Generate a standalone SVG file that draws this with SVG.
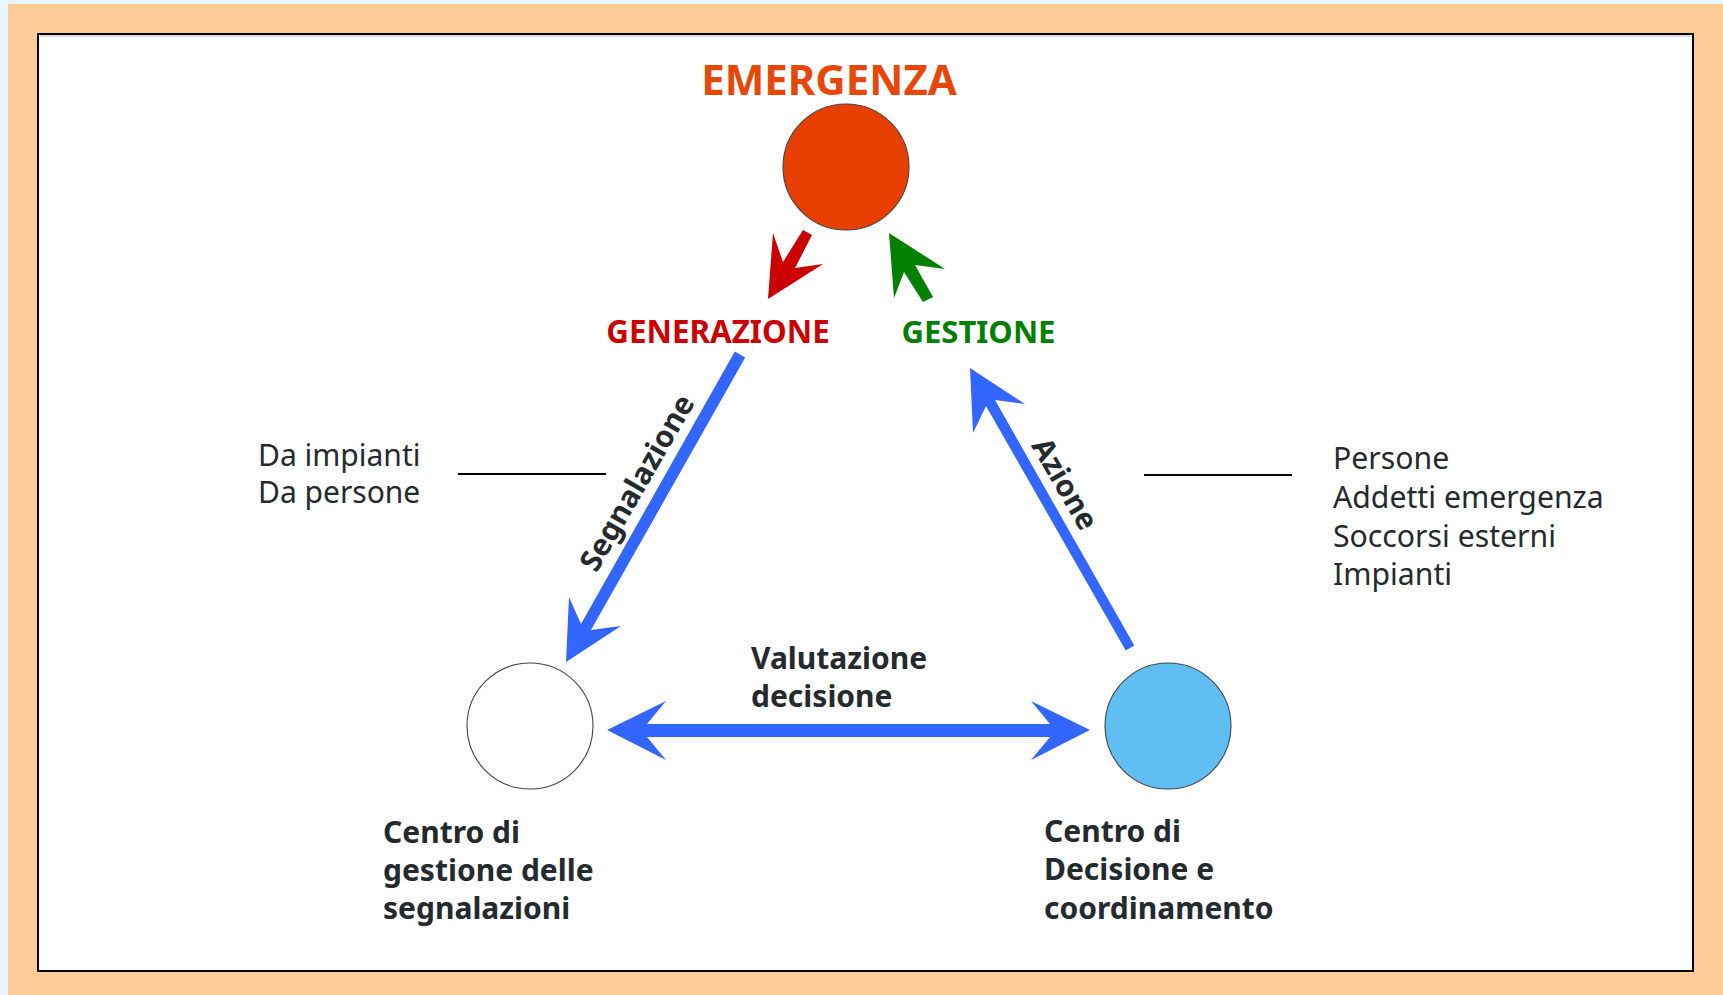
<svg xmlns="http://www.w3.org/2000/svg" width="1723" height="995" viewBox="0 0 1723 995">
<style>
.t{font-family:"Noto Sans","Open Sans","Liberation Sans",sans-serif;fill:#252a2e}
.b{font-weight:bold}
.r{font-weight:normal}
.blue{fill:#3366ff}
.node{stroke:#444;stroke-width:1.1}
</style>
<rect x="0" y="0" width="1723" height="995" fill="#e9f4ff"/>
<rect x="8" y="4" width="1715" height="991" fill="#ffcb99"/>
<rect x="38" y="34" width="1655" height="937" fill="#ffffff" stroke="#000" stroke-width="2"/>
<line x1="40" y1="36" x2="1691" y2="36" stroke="#bbb" stroke-width="1"/>

<g id="emergenza">
<text class="t b" x="829" y="95" font-size="42" text-anchor="middle" style="fill:#e8470a">EMERGENZA</text>
<circle class="node" cx="846" cy="167" r="63" fill="#e83e00"/>
</g>
<g id="generazione">
<polygon points="803,230 812,235 795,268 823,264 768,299 773,233 783,262" fill="#cc0000"/>
<text class="t b" x="718" y="343" font-size="31.3" text-anchor="middle" style="fill:#cc0000">GENERAZIONE</text>
</g>
<g id="gestione">
<polygon points="889,233 945,269 915,265 933,297 923,302 904,272 894,298" fill="#008000"/>
<text class="t b" x="978.5" y="343" font-size="31" text-anchor="middle" style="fill:#008000">GESTIONE</text>
</g>

<g id="centro-segnalazioni">
<circle class="node" cx="530" cy="726" r="63" fill="#ffffff"/>
<text class="t b" x="383" font-size="30"><tspan x="383" y="843">Centro di</tspan><tspan x="383" y="881">gestione delle</tspan><tspan x="383" y="919">segnalazioni</tspan></text>
</g>
<g id="centro-decisione">
<circle class="node" cx="1168" cy="726" r="63" fill="#60bff2"/>
<text class="t b" x="1044" font-size="30"><tspan x="1044" y="842">Centro di</tspan><tspan x="1044" y="880">Decisione e</tspan><tspan x="1044" y="919">coordinamento</tspan></text>
</g>

<g id="note-sinistra">
<text class="t r" font-size="30"><tspan x="258" y="466">Da impianti</tspan><tspan x="258" y="503">Da persone</tspan></text>
<line x1="458" y1="474" x2="606" y2="474" stroke="#000" stroke-width="2"/>
</g>
<g id="note-destra">
<line x1="1144" y1="475" x2="1292" y2="475" stroke="#000" stroke-width="2"/>
<text class="t r" font-size="30.2"><tspan x="1333" y="469">Persone</tspan><tspan x="1333" y="508">Addetti emergenza</tspan><tspan x="1333" y="547">Soccorsi esterni</tspan><tspan x="1333" y="585">Impianti</tspan></text>
</g>

<g id="connectors">
<polygon class="blue" points="734.8,351.5 745.2,357.5 591,630 621,626 566,662 569,597 581,624"/>
<text class="t b" font-size="30" text-anchor="middle" transform="translate(646,488) rotate(-60)">Segnalazione</text>
<polygon class="blue" points="970,368 1025,404 995,400 1134.3,645.5 1125.7,650.5 986,406 973,433"/>
<text class="t b" font-size="30" text-anchor="middle" transform="translate(1056,489) rotate(60)">Azione</text>
<polygon class="blue" points="607,730 666,701 647,724 1050,724 1031,701 1090,730 1031,760 1050,737 647,737 666,760"/>
<text class="t b" font-size="30"><tspan x="751" y="669">Valutazione</tspan><tspan x="751" y="707">decisione</tspan></text>
</g>
</svg>
